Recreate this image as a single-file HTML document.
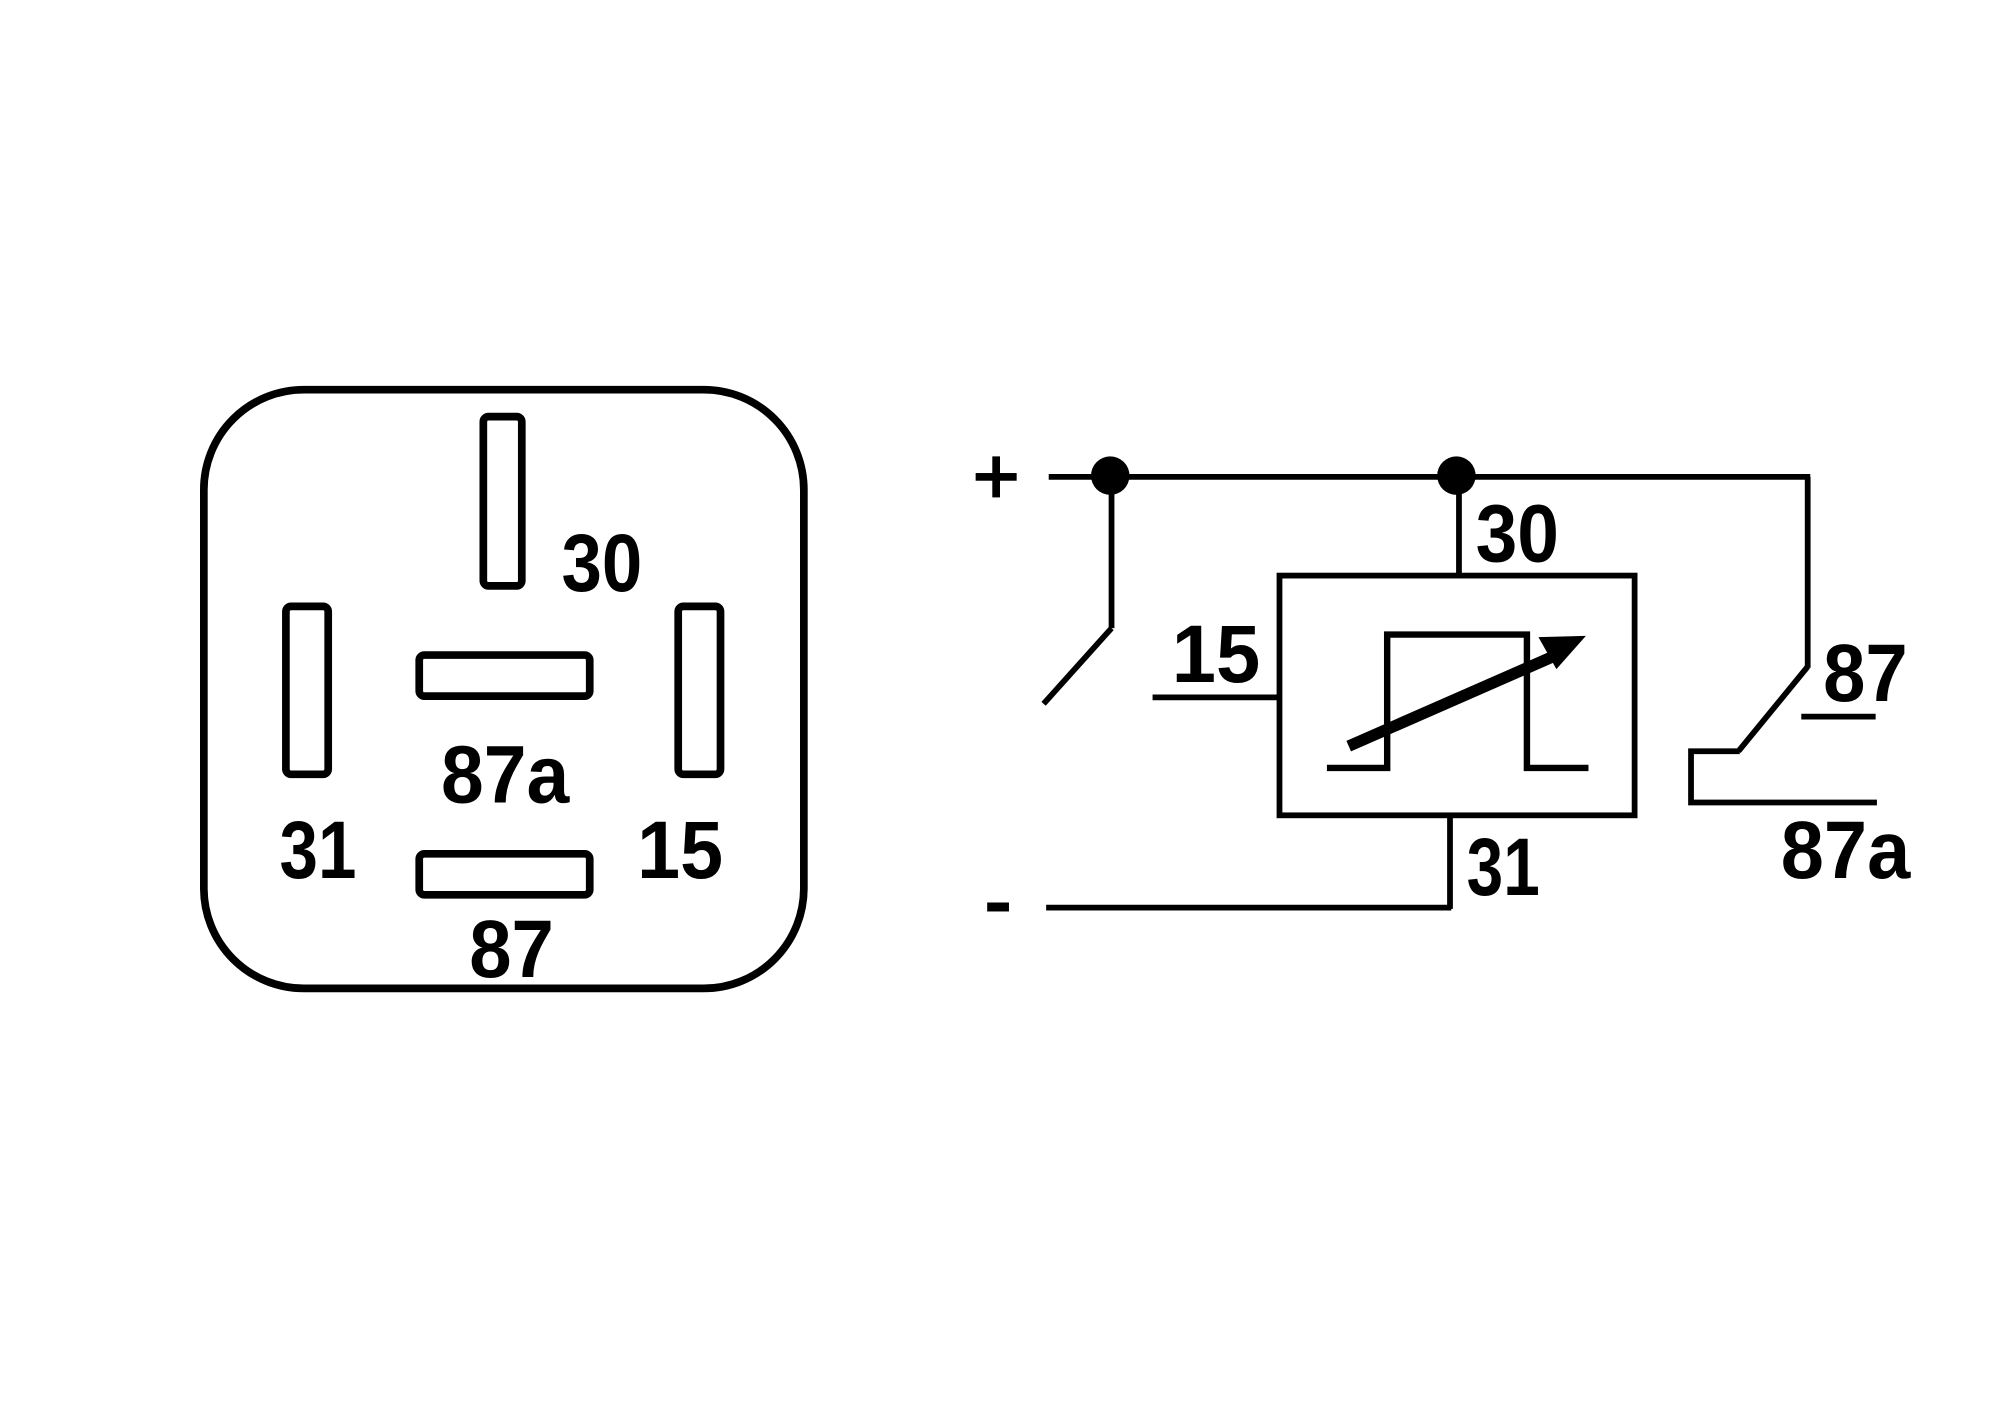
<!DOCTYPE html>
<html><head><meta charset="utf-8"><style>
html,body{margin:0;padding:0;background:#fff;}
svg{display:block;}
text{font-family:"Liberation Sans",Arial,sans-serif;font-weight:bold;fill:#000;}
</style></head><body>
<svg width="2000" height="1404" viewBox="0 0 1560 1095.2" preserveAspectRatio="none" xmlns="http://www.w3.org/2000/svg">
<rect x="0" y="0" width="1560" height="1096" fill="#fff"/>
<g fill="none" stroke="#000">
  <rect x="159" y="304" width="468" height="467" rx="78" ry="78" stroke-width="6"/>
  <rect x="377" y="325" width="30" height="132" rx="4" stroke-width="6"/>
  <rect x="223" y="473" width="33" height="131" rx="4" stroke-width="6"/>
  <rect x="529" y="473" width="33" height="131" rx="4" stroke-width="6"/>
  <rect x="327" y="511" width="133" height="32" rx="4" stroke-width="6"/>
  <rect x="327" y="666" width="133" height="32" rx="4" stroke-width="6"/>
</g>
<text x="438" y="461" font-size="64" textLength="63" lengthAdjust="spacingAndGlyphs">30</text>
<text x="344" y="626" font-size="64" textLength="100" lengthAdjust="spacingAndGlyphs">87a</text>
<text x="218" y="685" font-size="64" textLength="60" lengthAdjust="spacingAndGlyphs">31</text>
<text x="497" y="685" font-size="64" textLength="67" lengthAdjust="spacingAndGlyphs">15</text>
<text x="366" y="762" font-size="64" textLength="66" lengthAdjust="spacingAndGlyphs">87</text>

<g fill="none" stroke="#000" stroke-width="4.5">
  <line x1="818" y1="372" x2="1412" y2="372"/>
  <line x1="867" y1="372" x2="867" y2="490"/>
  <line x1="867" y1="490" x2="814" y2="549"/>
  <line x1="1138" y1="372" x2="1138" y2="448"/>
  <rect x="998" y="449" width="277" height="187"/>
  <line x1="899" y1="544" x2="998" y2="544"/>
  <polyline points="1035,599 1082,599 1082,495 1191,495 1191,599 1239,599" stroke-width="5"/>
  <line x1="1131" y1="636" x2="1131" y2="709"/>
  <line x1="816" y1="708" x2="1132" y2="708"/>
  <line x1="1410" y1="372" x2="1410" y2="521"/>
  <line x1="1410" y1="520" x2="1356" y2="586"/>
  <polyline points="1357,586 1319,586 1319,626 1464,626"/>
  <line x1="1405" y1="559" x2="1463" y2="559"/>
</g>
<circle cx="866" cy="371" r="15" fill="#000"/>
<circle cx="1136" cy="371" r="15" fill="#000"/>
<line x1="1052" y1="582" x2="1214" y2="511" stroke="#000" stroke-width="9"/>
<polygon points="1237,496 1200,497 1214,522" fill="#000"/>
<rect x="761" y="369" width="32" height="6" fill="#000"/>
<rect x="774" y="356" width="6" height="32" fill="#000"/>
<rect x="770" y="704" width="17" height="7" fill="#000"/>
<text x="1151" y="438" font-size="64" textLength="65" lengthAdjust="spacingAndGlyphs">30</text>
<text x="914" y="532" font-size="64" textLength="69" lengthAdjust="spacingAndGlyphs">15</text>
<text x="1144" y="698" font-size="64" textLength="57" lengthAdjust="spacingAndGlyphs">31</text>
<text x="1422" y="547" font-size="64" textLength="66" lengthAdjust="spacingAndGlyphs">87</text>
<text x="1389" y="685" font-size="64" textLength="101" lengthAdjust="spacingAndGlyphs">87a</text>
</svg>
</body></html>
